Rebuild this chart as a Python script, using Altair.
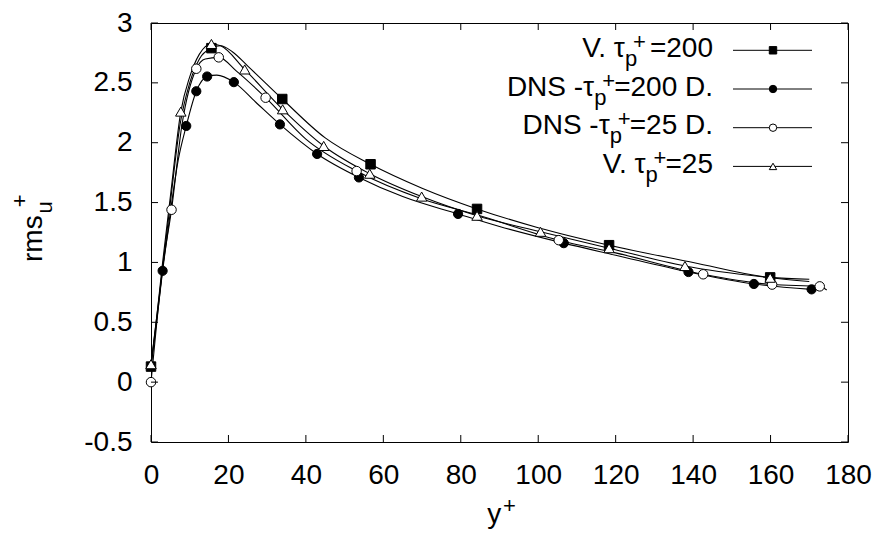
import altair as alt
import pandas as pd

# ---------------- data ----------------
# V. tau_p+=200  (filled squares)
sq_curve_x = [0, 1.5, 3, 5, 7.5, 10, 12.5, 15.6, 18, 21, 25, 33.9, 45, 56.7, 70, 84.2, 100, 118.3, 140, 159.9, 170]
sq_curve_y = [0.13, 0.55, 0.95, 1.5, 2.15, 2.5, 2.7, 2.79, 2.81, 2.76, 2.64, 2.365, 2.04, 1.82, 1.62, 1.447, 1.29, 1.144, 1.0, 0.875, 0.86]
sq_mark_x = [0, 15.6, 33.9, 56.7, 84.2, 118.3, 159.9]
sq_mark_y = [0.13, 2.79, 2.365, 1.82, 1.447, 1.144, 0.875]

# DNS-tau_p+=200 D.  (filled circles)
fc_curve_x = [0, 1.5, 3, 5, 7, 9.1, 11.7, 14.5, 17, 21.4, 27, 33.3, 42.9, 53.7, 65, 79.3, 90, 106.6, 120, 138.8, 155.7, 170.6]
fc_curve_y = [0.13, 0.52, 0.93, 1.42, 1.85, 2.14, 2.43, 2.553, 2.565, 2.506, 2.34, 2.153, 1.906, 1.71, 1.55, 1.405, 1.3, 1.161, 1.06, 0.92, 0.82, 0.775]
fc_mark_x = [3, 9.1, 11.7, 14.5, 21.4, 33.3, 42.9, 53.7, 79.3, 106.6, 138.8, 155.7, 170.6]
fc_mark_y = [0.93, 2.14, 2.43, 2.553, 2.506, 2.153, 1.906, 1.71, 1.405, 1.161, 0.92, 0.82, 0.775]

# DNS-tau_p+=25 D.  (open circles)
oc_curve_x = [0, 1.5, 3, 5.3, 8, 11.7, 14, 17.5, 22, 29.6, 40, 53.1, 70, 84, 105.3, 120, 142.6, 160.4, 172.7, 174.5]
oc_curve_y = [0.0, 0.5, 0.95, 1.44, 2.15, 2.618, 2.7, 2.713, 2.6, 2.376, 2.03, 1.763, 1.53, 1.4, 1.186, 1.08, 0.901, 0.815, 0.80, 0.77]
oc_mark_x = [0, 5.3, 11.7, 17.5, 29.6, 53.1, 105.3, 142.6, 160.4, 172.7]
oc_mark_y = [0.0, 1.44, 2.618, 2.713, 2.376, 1.763, 1.186, 0.901, 0.815, 0.80]

# V. tau_p+=25  (open triangles)
tr_curve_x = [0, 1.5, 3, 5, 7.7, 10, 12.5, 15.6, 18, 24.2, 34, 44.6, 56.5, 69.9, 84.2, 100.6, 118.3, 137.9, 159.9, 170]
tr_curve_y = [0.15, 0.55, 1.0, 1.55, 2.26, 2.55, 2.74, 2.825, 2.81, 2.612, 2.279, 1.973, 1.741, 1.55, 1.39, 1.256, 1.119, 0.97, 0.872, 0.84]
tr_mark_x = [0, 7.7, 15.6, 24.2, 34, 44.6, 56.5, 69.9, 84.2, 100.6, 118.3, 137.9, 159.9]
tr_mark_y = [0.15, 2.26, 2.825, 2.612, 2.279, 1.973, 1.741, 1.55, 1.39, 1.256, 1.119, 0.97, 0.872]

x_ticks = [0, 20, 40, 60, 80, 100, 120, 140, 160, 180]
y_ticks = [-0.5, 0, 0.5, 1, 1.5, 2, 2.5, 3]

leg_pre = ["V. τ", "DNS -τ", "DNS -τ", "V. τ"]
leg_sub = ["p", "p", "p", "p"]
leg_sup = ["+", "+", "+", "+"]
leg_suf = ["=200", "=200 D.", "=25 D.", "=25"]
leg_shape = ["square", "circle", "circle", "triangle-up"]
leg_fill = ["black", "black", "white", "white"]

# ---------------- layout ----------------
W, H = 697, 419
FONT = "Liberation Sans"
FS = 28
FS_SMALL = 22

# Arial / Liberation Sans advance widths (per 1000 em)
ADV = {"=": 584, " ": 278, "D": 722, ".": 278}
for d in "0123456789":
    ADV[d] = 556


def text_w(s, size):
    return sum(ADV.get(c, 556) for c in s) * size / 1000.0


x_scale = alt.Scale(domain=[0, 180], nice=False, zero=False)
y_scale = alt.Scale(domain=[-0.5, 3], nice=False, zero=False)

x_axis = alt.Axis(values=x_ticks, ticks=False, domain=False, grid=False,
                  labelFont=FONT, labelFontSize=FS, labelColor="black",
                  labelPadding=19, labelFlush=False, labelOverlap=False, title="")
y_axis = alt.Axis(values=y_ticks, ticks=False, domain=False, grid=False,
                  labelFont=FONT, labelFontSize=FS, labelColor="black",
                  labelPadding=19, labelFlush=False, labelOverlap=False, title="",
                  labelExpr="datum.value < 0 ? '-' + format(-datum.value, '~g') : format(datum.value, '~g')")

layers = []

series = [
    (sq_curve_x, sq_curve_y, sq_mark_x, sq_mark_y, "square", "black", 90),
    (fc_curve_x, fc_curve_y, fc_mark_x, fc_mark_y, "circle", "black", 85),
    (oc_curve_x, oc_curve_y, oc_mark_x, oc_mark_y, "circle", "white", 90),
    (tr_curve_x, tr_curve_y, tr_mark_x, tr_mark_y, "triangle-up", "white", 110),
]

first = True
for cx, cy, mx, my, shp, fill, size in series:
    cdf = pd.DataFrame({"x": cx, "y": cy})
    if first:
        enc_x = alt.X("x:Q", scale=x_scale, axis=x_axis)
        enc_y = alt.Y("y:Q", scale=y_scale, axis=y_axis)
        first = False
    else:
        enc_x = alt.X("x:Q", scale=x_scale)
        enc_y = alt.Y("y:Q", scale=y_scale)
    layers.append(alt.Chart(cdf).mark_line(color="black", strokeWidth=1.1, interpolate="monotone")
                  .encode(x=enc_x, y=enc_y))

for cx, cy, mx, my, shp, fill, size in series:
    mdf = pd.DataFrame({"x": mx, "y": my})
    layers.append(alt.Chart(mdf).mark_point(shape=shp, filled=True, fill=fill, stroke="black",
                                            strokeWidth=1, size=size, opacity=1)
                  .encode(x=alt.X("x:Q", scale=x_scale), y=alt.Y("y:Q", scale=y_scale)))

# inward ticks on all four sides
xt = pd.DataFrame({"t": x_ticks})
yt = pd.DataFrame({"t": y_ticks})
TL = 7
layers.append(alt.Chart(xt).mark_rule(color="black", strokeWidth=1)
              .encode(x=alt.X("t:Q", scale=x_scale), y=alt.value(H), y2=alt.value(H - TL)))
layers.append(alt.Chart(xt).mark_rule(color="black", strokeWidth=1)
              .encode(x=alt.X("t:Q", scale=x_scale), y=alt.value(0), y2=alt.value(TL)))
layers.append(alt.Chart(yt).mark_rule(color="black", strokeWidth=1)
              .encode(y=alt.Y("t:Q", scale=y_scale), x=alt.value(0), x2=alt.value(TL)))
layers.append(alt.Chart(yt).mark_rule(color="black", strokeWidth=1)
              .encode(y=alt.Y("t:Q", scale=y_scale), x=alt.value(W), x2=alt.value(W - TL)))

# ---------------- legend (custom, gnuplot style) ----------------
X_R = 562
ROW0 = 34.0
ROW_STEP = 38.7
rows = []
for i in range(4):
    base = ROW0 + i * ROW_STEP
    gap = 25 if i == 0 else 20
    p_start = X_R - text_w(leg_suf[i], FS) - gap
    rows.append({
        "base": base, "line_y": base - 6.7,
        "pre": leg_pre[i], "sub": leg_sub[i], "sup": leg_sup[i], "suf": leg_suf[i],
        "p_start": p_start, "sup_x": p_start + 8, "x_r": X_R,
        "shape": leg_shape[i], "fill": leg_fill[i],
    })
ldf = pd.DataFrame(rows)

py = alt.Y("base:Q", scale=None, axis=None)
layers.append(alt.Chart(ldf).mark_text(font=FONT, fontSize=FS, align="right", baseline="alphabetic", color="black")
              .encode(x=alt.X("x_r:Q", scale=None, axis=None), y=py, text="suf:N"))
layers.append(alt.Chart(ldf).mark_text(font=FONT, fontSize=FS, align="right", baseline="alphabetic", color="black")
              .encode(x=alt.X("p_start:Q", scale=None, axis=None), y=py, text="pre:N"))
layers.append(alt.Chart(ldf).mark_text(font=FONT, fontSize=FS_SMALL, align="left", baseline="alphabetic", color="black", dy=9)
              .encode(x=alt.X("p_start:Q", scale=None, axis=None), y=py, text="sub:N"))
layers.append(alt.Chart(ldf).mark_text(font=FONT, fontSize=FS_SMALL, align="left", baseline="alphabetic", color="black", dy=-8)
              .encode(x=alt.X("sup_x:Q", scale=None, axis=None), y=py, text="sup:N"))
layers.append(alt.Chart(ldf).mark_rule(color="black", strokeWidth=1)
              .encode(x=alt.value(582), x2=alt.value(661), y=alt.Y("line_y:Q", scale=None, axis=None)))
layers.append(alt.Chart(ldf).mark_point(filled=True, stroke="black", strokeWidth=1, size=55, opacity=1)
              .encode(x=alt.value(622), y=alt.Y("line_y:Q", scale=None, axis=None),
                      shape=alt.Shape("shape:N", scale=None, legend=None),
                      fill=alt.Fill("fill:N", scale=None, legend=None)))

# ---------------- axis titles with sub/superscripts ----------------
xt_df = pd.DataFrame({"tx": [336.3], "ty": [499.8], "t": ["y"], "sx": [352.0], "sy": [489.5], "s": ["+"]})
layers.append(alt.Chart(xt_df).mark_text(font=FONT, fontSize=FS, align="left", baseline="alphabetic", color="black")
              .encode(x=alt.X("tx:Q", scale=None, axis=None), y=alt.Y("ty:Q", scale=None, axis=None), text="t:N"))
layers.append(alt.Chart(xt_df).mark_text(font=FONT, fontSize=FS_SMALL, align="left", baseline="alphabetic", color="black")
              .encode(x=alt.X("sx:Q", scale=None, axis=None), y=alt.Y("sy:Q", scale=None, axis=None), text="s:N"))

yt_df = pd.DataFrame({"rx": [-109.0], "ry": [192.3], "r": ["rms"],
                      "ux": [-99.3], "uy": [190.5], "u": ["u"],
                      "px": [-123.7], "pyy": [184.3], "p": ["+"]})
layers.append(alt.Chart(yt_df).mark_text(font=FONT, fontSize=FS, align="right", baseline="alphabetic", angle=270, color="black")
              .encode(x=alt.X("rx:Q", scale=None, axis=None), y=alt.Y("ry:Q", scale=None, axis=None), text="r:N"))
layers.append(alt.Chart(yt_df).mark_text(font=FONT, fontSize=FS_SMALL, align="left", baseline="alphabetic", angle=270, color="black")
              .encode(x=alt.X("ux:Q", scale=None, axis=None), y=alt.Y("uy:Q", scale=None, axis=None), text="u:N"))
layers.append(alt.Chart(yt_df).mark_text(font=FONT, fontSize=FS_SMALL, align="left", baseline="alphabetic", angle=270, color="black")
              .encode(x=alt.X("px:Q", scale=None, axis=None), y=alt.Y("pyy:Q", scale=None, axis=None), text="p:N"))

chart = (alt.layer(*layers)
         .properties(width=W, height=H,
                     padding={"left": 151, "top": 23, "right": 35, "bottom": 98},
                     autosize=alt.AutoSizeParams(type="none"),
                     background="white")
         .configure_view(stroke="black", strokeWidth=1))

chart.save("out.html", embed_options={"renderer": "svg", "actions": False})
